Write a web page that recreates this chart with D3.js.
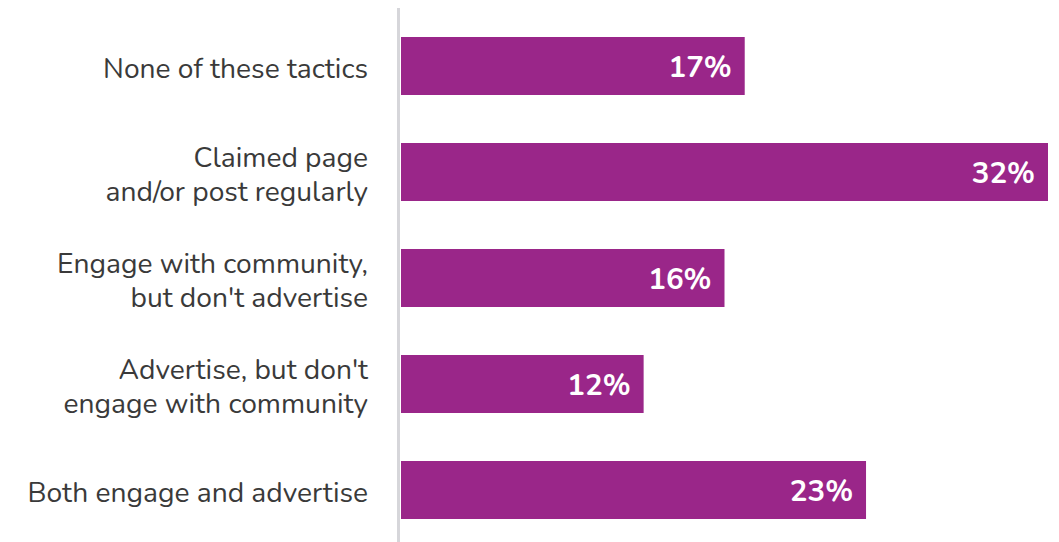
<!DOCTYPE html>
<html>
<head>
<meta charset="utf-8">
<script src="https://cdn.jsdelivr.net/npm/d3@7"></script>
<style>
  html, body { margin: 0; padding: 0; background: #fff; }
  svg { display: block; }
</style>
</head>
<body>
<svg id="chart" width="1059" height="542"></svg>
<script>
// Share of respondents by tactic
const categories = [
  ["None of these tactics"],
  ["Claimed page", "and/or post regularly"],
  ["Engage with community,", "but don't advertise"],
  ["Advertise, but don't", "engage with community"],
  ["Both engage and advertise"]
];
const values = [17, 32, 16, 12, 23];
const valueLabels = ["17%", "32%", "16%", "12%", "23%"];

const W = 1059, H = 542;
const FONT = "Nunito, 'Open Sans', sans-serif";
const BAR = "#9a2689";

const svg = d3.select("#chart");

const x = d3.scaleLinear().domain([0, 32]).range([401, 1048]);
const y = d3.scaleBand()
  .domain(d3.range(values.length))
  .range([13, 543])
  .paddingInner(0.453)
  .paddingOuter(0.2265);

// bars
svg.append("g").selectAll("rect")
  .data(values)
  .join("rect")
  .attr("x", x(0))
  .attr("y", (d, i) => y(i))
  .attr("width", d => x(d) - x(0))
  .attr("height", y.bandwidth())
  .attr("fill", BAR);

// value labels inside bar ends
svg.append("g").selectAll("text")
  .data(values)
  .join("text")
  .attr("x", d => x(d) - 13)
  .attr("y", (d, i) => y(i) + y.bandwidth() / 2 + 11)
  .attr("text-anchor", "end")
  .attr("font-family", FONT)
  .attr("font-weight", 700)
  .attr("font-size", 29.5)
  .attr("fill", "#fff")
  .text((d, i) => valueLabels[i]);

// category labels
const lineH = 34;
const lab = svg.append("g").selectAll("text")
  .data(categories)
  .join("text")
  .attr("text-anchor", "end")
  .attr("font-family", FONT)
  .attr("font-size", 28.2)
  .attr("fill", "#3a3a3a")
  .attr("transform", (d, i) => {
    const base = y(i) + y.bandwidth() / 2 + 12 - (d.length - 1) * lineH / 2;
    return `translate(368,${base})`;
  });
lab.selectAll("tspan")
  .data(d => d)
  .join("tspan")
  .attr("x", 0)
  .attr("y", (d, j) => j * lineH)
  .text(d => d);

// vertical baseline
svg.append("line")
  .attr("x1", 398.5).attr("x2", 398.5)
  .attr("y1", 8).attr("y2", H)
  .attr("stroke", "#d6d6da")
  .attr("stroke-width", 3);
</script>
</body>
</html>
